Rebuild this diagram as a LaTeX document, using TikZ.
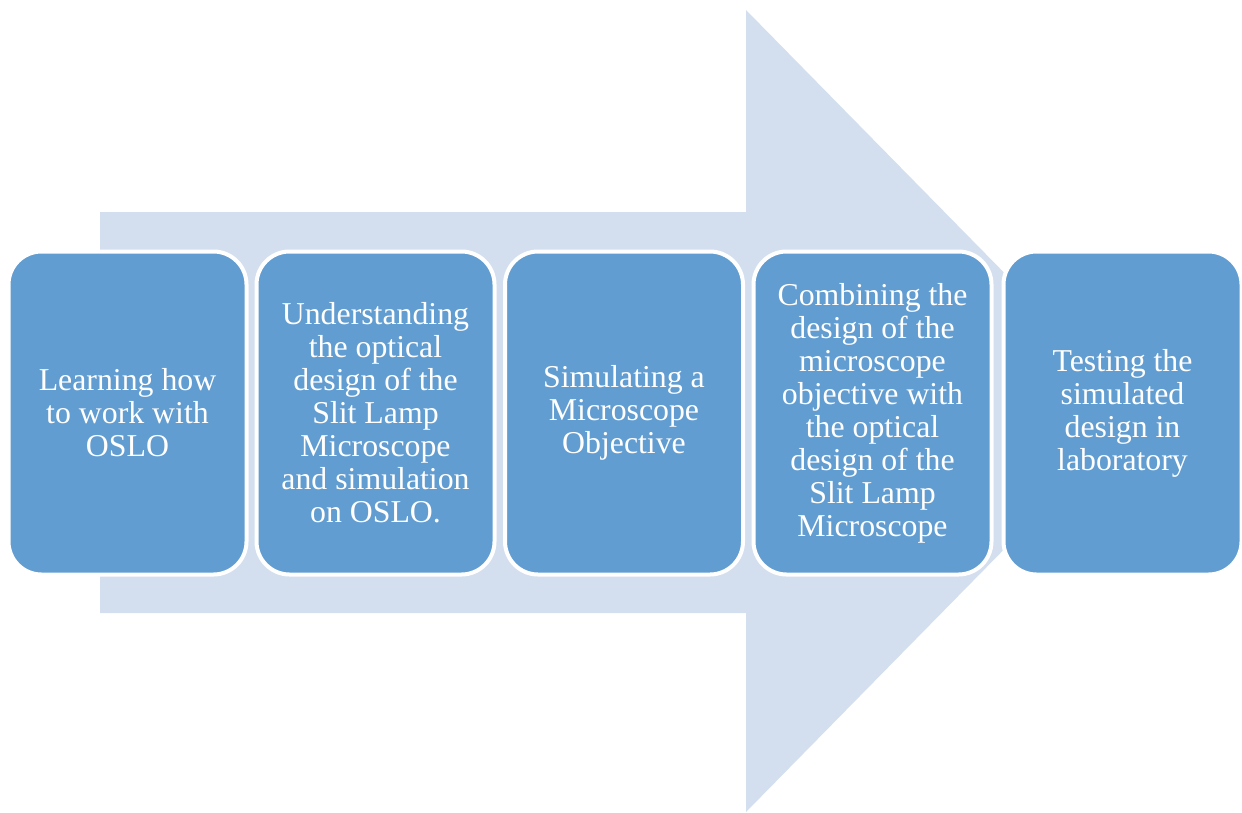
\documentclass[tikz,border=0pt]{standalone}
\usepackage{fontspec}
\setmainfont{Liberation Serif}
\definecolor{arrowfill}{HTML}{D3DFEE}
\definecolor{stepfill}{HTML}{629DD1}
\begin{document}
\begin{tikzpicture}[x=1pt,y=-1pt,
  stepbox/.style={draw=white, line width=4pt, fill=stepfill, rounded corners=33pt,
    minimum width=238pt, minimum height=323pt, inner sep=0pt, align=center,
    text=white, font=\fontsize{31.8}{33}\selectfont}]
\useasboundingbox (0,0) rectangle (1242,812);
% large background arrow
\fill[arrowfill] (100,212) -- (746,212) -- (746,10) -- (1140,411) -- (746,812)
  -- (746,613) -- (100,613) -- cycle;
% process steps
\node[stepbox] (s1) at (127.5,413) {Learning how\\to work with\\OSLO};
\node[stepbox] (s2) at (375.5,413) {Understanding\\the optical\\design of the\\Slit Lamp\\Microscope\\and simulation\\on OSLO.};
\node[stepbox] (s3) at (624,413) {Simulating a\\Microscope\\Objective};
\node[stepbox] (s4) at (872.5,413) {Combining the\\design of the\\microscope\\objective with\\the optical\\design of the\\Slit Lamp\\Microscope};
\node[stepbox] (s5) at (1122.5,413) {Testing the\\simulated\\design in\\laboratory};
\end{tikzpicture}
\end{document}
